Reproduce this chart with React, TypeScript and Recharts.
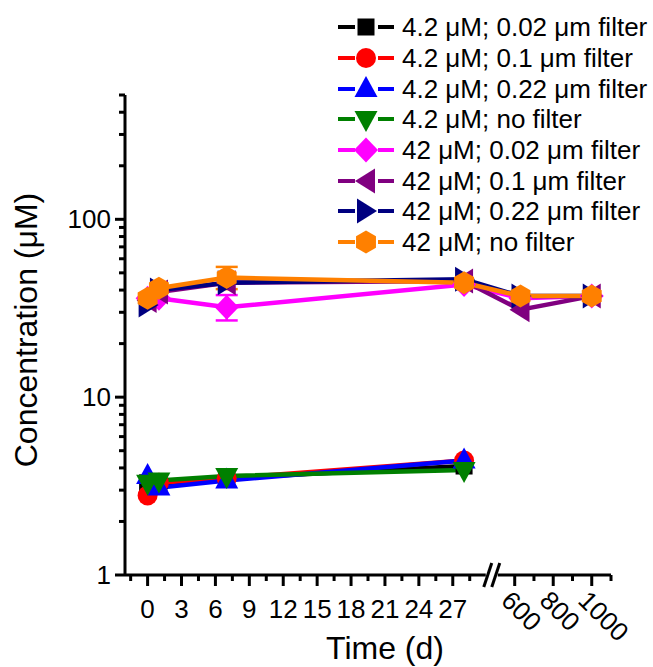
import React from 'react';
import { LineChart, Line, XAxis, YAxis, ErrorBar, ReferenceLine, ReferenceDot, Label } from 'recharts';

const FONT = '"Liberation Sans", Arial, Helvetica, sans-serif';

// Sampling times (days)
const times = [0, 1, 7, 28, 630, 1000];

// 4.2 uM spike (only sampled to day 28)
const low002 = [3.3, 3.2, 3.5, 4.1];
const low01 = [2.8, 3.3, 3.5, 4.4];
const low022 = [3.6, 3.1, 3.4, 4.4];
const lowNone = [3.3, 3.4, 3.6, 3.9];

// 42 uM spike
const high002 = [36, 36, 32, 43, 36, 37];
const high01 = [35, 39, 44, 45, 31, 37];
const high022 = [33, 40, 44, 46, 37, 37];
const highNone = [36, 41, 47, 44, 37, 37];

// error bars [minus, plus]
const high002Err = [null, null, [5, 5.5], null, null, null];
const highNoneErr = [null, null, [6.5, 7], null, null, null];

const seriesNames = [
  '4.2 \u03bcM; 0.02 \u03bcm filter',
  '4.2 \u03bcM; 0.1 \u03bcm filter',
  '4.2 \u03bcM; 0.22 \u03bcm filter',
  '4.2 \u03bcM; no filter',
  '42 \u03bcM; 0.02 \u03bcm filter',
  '42 \u03bcM; 0.1 \u03bcm filter',
  '42 \u03bcM; 0.22 \u03bcm filter',
  '42 \u03bcM; no filter',
];

const yTicks = [1, 2, 3, 4, 5, 6, 7, 8, 9, 10, 20, 30, 40, 50, 60, 70, 80, 90, 100, 200, 300, 400, 500];
const yLabelled = [1, 10, 100];

const xLeftMajor = [0, 3, 6, 9, 12, 15, 18, 21, 24, 27];
const xLeftMinor = [-1.5, 1.5, 4.5, 7.5, 10.5, 13.5, 16.5, 19.5, 22.5, 25.5, 28.5];
const xRightMajor = [600, 800, 1000];
const xRightMinor = [700, 900, 1100];

// broken-axis mapping: days -> axis units
const BREAK_AT = 30;
const RIGHT_ORIGIN = 600;
const RIGHT_ORIGIN_U = 32.48;
const RIGHT_SCALE = 0.01704;
const toAxis = (t: number) => (t <= BREAK_AT ? t : RIGHT_ORIGIN_U + (t - RIGHT_ORIGIN) * RIGHT_SCALE);

const series = [
  { key: 's1', values: low002, color: '#000000', shape: 'square' },
  { key: 's2', values: low01, color: '#ff0000', shape: 'circle' },
  { key: 's3', values: low022, color: '#0000ff', shape: 'up' },
  { key: 's4', values: lowNone, color: '#008000', shape: 'down' },
  { key: 's5', values: high002, color: '#ff00ff', shape: 'diamond', err: high002Err },
  { key: 's6', values: high01, color: '#800080', shape: 'left' },
  { key: 's7', values: high022, color: '#000080', shape: 'right' },
  { key: 's8', values: highNone, color: '#ff8000', shape: 'hex', err: highNoneErr },
];

const data = times.map((t, i) => {
  const row: any = { u: toAxis(t), t };
  series.forEach((s) => {
    row[s.key] = s.values[i] ?? null;
    if (s.err) row[s.key + 'e'] = s.err[i] ?? undefined;
  });
  return row;
});

const xTicks = [
  ...xLeftMajor.map((d) => ({ u: toAxis(d), label: String(d), major: true, rot: false })),
  ...xLeftMinor.map((d) => ({ u: toAxis(d), label: '', major: false, rot: false })),
  ...xRightMajor.map((d) => ({ u: toAxis(d), label: String(d), major: true, rot: true })),
  ...xRightMinor.map((d) => ({ u: toAxis(d), label: '', major: false, rot: true })),
].sort((a, b) => a.u - b.u);

function Marker({ cx, cy, shape, color }: any) {
  switch (shape) {
    case 'square':
      return <rect x={cx - 8.5} y={cy - 8.5} width={17} height={17} fill={color} />;
    case 'circle':
      return <circle cx={cx} cy={cy} r={10} fill={color} />;
    case 'up':
      return <polygon points={`${cx},${cy - 13} ${cx + 11.5},${cy + 8} ${cx - 11.5},${cy + 8}`} fill={color} />;
    case 'down':
      return <polygon points={`${cx},${cy + 13} ${cx + 11.5},${cy - 8} ${cx - 11.5},${cy - 8}`} fill={color} />;
    case 'diamond':
      return <polygon points={`${cx},${cy - 12.5} ${cx + 12},${cy} ${cx},${cy + 12.5} ${cx - 12},${cy}`} fill={color} />;
    case 'left':
      return <polygon points={`${cx - 11},${cy} ${cx + 9},${cy - 12.5} ${cx + 9},${cy + 12.5}`} fill={color} />;
    case 'right':
      return <polygon points={`${cx + 11},${cy} ${cx - 9},${cy - 12.5} ${cx - 9},${cy + 12.5}`} fill={color} />;
    case 'hex': {
      const r = 11.5;
      const pts = [-90, -30, 30, 90, 150, 210]
        .map((a) => `${cx + r * Math.cos((a * Math.PI) / 180)},${cy + r * Math.sin((a * Math.PI) / 180)}`)
        .join(' ');
      return <polygon points={pts} fill={color} />;
    }
    default:
      return null;
  }
}

const makeDot = (shape: string, color: string) => (props: any) => {
  const { cx, cy, index, value } = props;
  if (cx == null || cy == null || value == null || Number.isNaN(cy)) return <g key={`d-${index}`} />;
  return (
    <g key={`d-${index}`}>
      <Marker cx={cx} cy={cy} shape={shape} color={color} />
    </g>
  );
};

const YTick = (props: any) => {
  const { x, y, payload } = props;
  const v = payload.value;
  const major = yLabelled.includes(v);
  const len = major ? 10 : 6;
  return (
    <g>
      <line x1={x - len} x2={x} y1={y} y2={y} stroke="#000" strokeWidth={3} />
      {major && (
        <text x={x - 14} y={y} textAnchor="end" dominantBaseline="central" fontSize={26} fontFamily={FONT} fill="#000">
          {v}
        </text>
      )}
    </g>
  );
};

const XTick = (props: any) => {
  const { x, y, payload } = props;
  const tk = xTicks.find((t) => Math.abs(t.u - payload.value) < 1e-6);
  if (!tk) return <g />;
  const len = tk.major ? 11 : 6;
  return (
    <g>
      <line x1={x} x2={x} y1={y} y2={y + len} stroke="#000" strokeWidth={3} />
      {tk.label && !tk.rot && (
        <text x={x} y={y + 43} textAnchor="middle" fontSize={26} fontFamily={FONT} fill="#000">
          {tk.label}
        </text>
      )}
      {tk.label && tk.rot && (
        <text
          x={x - 15}
          y={y + 27}
          textAnchor="start"
          fontSize={26}
          fontFamily={FONT}
          fill="#000"
          transform={`rotate(45, ${x - 15}, ${y + 27})`}
        >
          {tk.label}
        </text>
      )}
    </g>
  );
};

const BreakMark = (props: any) => {
  const { cx, cy } = props;
  return (
    <g>
      <rect x={cx - 6} y={cy - 3} width={12} height={6} fill="#fff" />
      <line x1={cx - 8} y1={cy + 12} x2={cx} y2={cy - 12} stroke="#000" strokeWidth={3} />
      <line x1={cx} y1={cy + 12} x2={cx + 8} y2={cy - 12} stroke="#000" strokeWidth={3} />
    </g>
  );
};

function Legend() {
  return (
    <div style={{ position: 'absolute', left: 336, top: 12, fontFamily: FONT, fontSize: 26, color: '#000' }}>
      {series.map((s, i) => (
        <div key={s.key} style={{ display: 'flex', alignItems: 'center', height: 30.7 }}>
          <svg width={60} height={30} style={{ display: 'block' }}>
            <line x1={2} x2={19} y1={15} y2={15} stroke={s.color} strokeWidth={4} />
            <line x1={42} x2={58} y1={15} y2={15} stroke={s.color} strokeWidth={4} />
            <Marker cx={30} cy={15} shape={s.shape} color={s.color} />
          </svg>
          <span style={{ marginLeft: 6, whiteSpace: 'nowrap', lineHeight: '30px' }}>{seriesNames[i]}</span>
        </div>
      ))}
    </div>
  );
}

export default function App() {
  return (
    <div style={{ position: 'absolute', left: 0, top: 0, width: 653, height: 667, background: '#fff', overflow: 'hidden' }}>
      <LineChart width={653} height={667} data={data} margin={{ top: 95, right: 42, left: 0, bottom: 0 }}>
        <XAxis
          dataKey="u"
          type="number"
          domain={[-2, 41]}
          ticks={xTicks.map((t) => t.u)}
          interval={0}
          allowDataOverflow
          axisLine={false}
          tickLine={false}
          tickSize={0}
          tickMargin={0}
          height={92}
          tick={<XTick />}
        >
          <Label
            content={() => (
              <text x={385} y={659} textAnchor="middle" fontSize={32} fontFamily={FONT} fill="#000">
                Time (d)
              </text>
            )}
          />
        </XAxis>
        <YAxis
          scale="log"
          type="number"
          domain={[1, 500]}
          ticks={yTicks}
          interval={0}
          allowDataOverflow
          width={125}
          axisLine={{ stroke: '#000', strokeWidth: 3 }}
          tickLine={false}
          tickSize={0}
          tickMargin={0}
          tick={<YTick />}
        >
          <Label
            content={() => (
              <text
                x={37}
                y={330}
                textAnchor="middle"
                fontSize={32}
                fontFamily={FONT}
                fill="#000"
                transform="rotate(-90, 37, 330)"
              >
                Concentration ({'\u03bc'}M)
              </text>
            )}
          />
        </YAxis>
        <ReferenceLine segment={[{ x: -2, y: 1 }, { x: 30.2, y: 1 }]} stroke="#000" strokeWidth={3} />
        <ReferenceLine segment={[{ x: 30.7, y: 1 }, { x: 41, y: 1 }]} stroke="#000" strokeWidth={3} />
        <ReferenceDot x={30.45} y={1} r={0} shape={<BreakMark />} />
        {series.map((s) => (
          <Line
            key={s.key}
            dataKey={s.key}
            stroke={s.color}
            strokeWidth={4.5}
            isAnimationActive={false}
            dot={makeDot(s.shape, s.color)}
            activeDot={false}
            legendType="none"
          >
            {s.err && <ErrorBar dataKey={s.key + 'e'} direction="y" width={11} strokeWidth={2.5} stroke={s.color} />}
          </Line>
        ))}
      </LineChart>
      <Legend />
    </div>
  );
}
